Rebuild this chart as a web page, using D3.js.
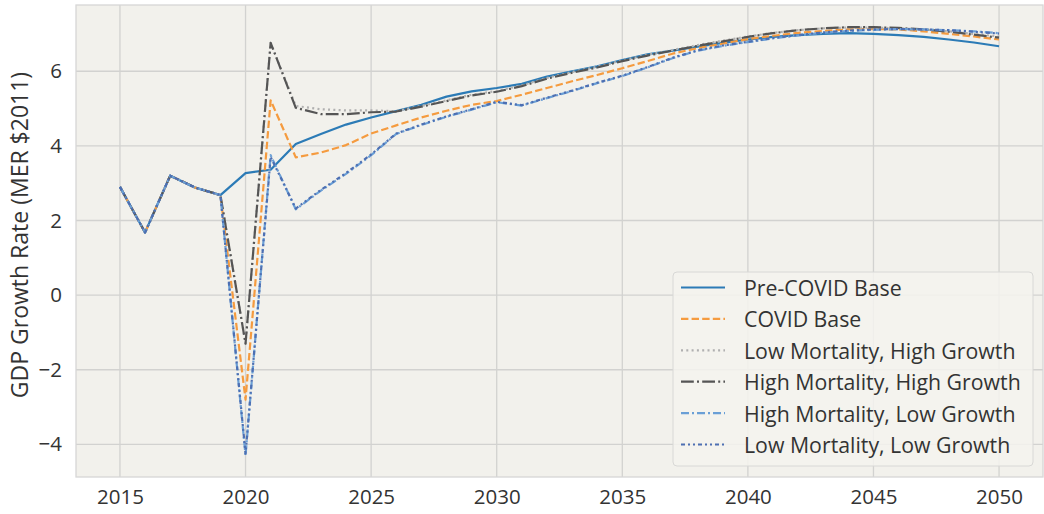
<!DOCTYPE html>
<html>
<head>
<meta charset="utf-8">
<script src="https://cdn.jsdelivr.net/npm/d3@7"></script>
<style>
  body { margin: 0; background: #fff; }
  svg { display: block; }
</style>
</head>
<body>
<div id="chart"></div>
<script>
const years = d3.range(2015, 2051);

const preCovidBase = [2.9, 1.68, 3.2, 2.88, 2.68, 3.27, 3.36, 4.05, 4.32, 4.57, 4.76, 4.93, 5.1, 5.32, 5.46, 5.55,
    5.66, 5.86, 6.0, 6.13, 6.3, 6.45, 6.55, 6.66, 6.76, 6.85, 6.92, 6.97, 7.0, 7.02, 7.0, 6.97, 6.92, 6.85, 6.77, 6.67];
const covidBase = [2.9, 1.68, 3.2, 2.88, 2.68, -2.8, 5.22, 3.69, 3.82, 4.02, 4.33, 4.55, 4.76, 4.94, 5.1, 5.2,
    5.37, 5.55, 5.73, 5.9, 6.08, 6.27, 6.47, 6.62, 6.74, 6.86, 6.95, 7.03, 7.08, 7.12, 7.13, 7.12, 7.07, 7.0, 6.93, 6.85];
const lowMortHighGrowth = [2.9, 1.68, 3.2, 2.88, 2.68, -1.3, 6.76, 5.07, 4.98, 4.95, 4.95, 4.93, 5.07, 5.22, 5.37, 5.47,
    5.62, 5.82, 5.98, 6.12, 6.29, 6.44, 6.57, 6.7, 6.82, 6.93, 7.03, 7.1, 7.15, 7.17, 7.17, 7.15, 7.12, 7.07, 7.0, 6.93];
const highMortHighGrowth = [2.9, 1.68, 3.2, 2.88, 2.68, -1.3, 6.76, 5.02, 4.85, 4.85, 4.9, 4.92, 5.05, 5.2, 5.35, 5.45,
    5.6, 5.8, 5.96, 6.1, 6.27, 6.42, 6.55, 6.68, 6.8, 6.92, 7.02, 7.1, 7.15, 7.18, 7.18, 7.16, 7.12, 7.06, 6.98, 6.9];
const highMortLowGrowth = [2.9, 1.68, 3.2, 2.88, 2.68, -4.3, 3.75, 2.3, 2.8, 3.25, 3.75, 4.32, 4.56, 4.78, 4.97, 5.17,
    5.08, 5.28, 5.47, 5.68, 5.87, 6.1, 6.35, 6.55, 6.68, 6.78, 6.88, 6.96, 7.03, 7.08, 7.11, 7.13, 7.12, 7.1, 7.07, 7.02];
const lowMortLowGrowth = [2.9, 1.68, 3.2, 2.88, 2.68, -4.25, 3.7, 2.32, 2.82, 3.27, 3.77, 4.33, 4.57, 4.79, 4.98, 5.18,
    5.09, 5.29, 5.48, 5.69, 5.88, 6.11, 6.36, 6.56, 6.69, 6.79, 6.89, 6.97, 7.04, 7.09, 7.12, 7.13, 7.12, 7.1, 7.06, 7.01];

const seriesNames = ["Pre-COVID Base", "COVID Base", "Low Mortality, High Growth",
    "High Mortality, High Growth", "High Mortality, Low Growth", "Low Mortality, Low Growth"];
const seriesValues = [preCovidBase, covidBase, lowMortHighGrowth, highMortHighGrowth, highMortLowGrowth, lowMortLowGrowth];
const seriesColors = ["#2c7bb6", "#f59b3f", "#b0b0b0", "#555555", "#6a9fd6", "#4d6fb2"];
const seriesDashes = [null, "7.4,3.2", "2,3.3", "12.8,3.2,2,3.2", "8,3,2,3", "4,3,2,3,2,3"];

const xTicks = [2015, 2020, 2025, 2030, 2035, 2040, 2045, 2050];
const yTicks = [-4, -2, 0, 2, 4, 6];

const width = 1044, height = 514;
const margin = { top: 5, right: 1, bottom: 37, left: 76 };
const font = "'Open Sans', sans-serif";

const svg = d3.select("#chart")
    .append("svg")
    .attr("width", width)
    .attr("height", height)
    .attr("font-family", font);

const x = d3.scaleLinear()
    .domain([2013.25, 2051.75])
    .range([margin.left, width - margin.right]);

const y = d3.scaleLinear()
    .domain([-4.875, 7.775])
    .range([height - margin.bottom, margin.top]);

// plot background
svg.append("rect")
    .attr("x", x.range()[0])
    .attr("y", y.range()[1])
    .attr("width", x.range()[1] - x.range()[0])
    .attr("height", y.range()[0] - y.range()[1])
    .attr("fill", "#f2f1ec");

// grid
svg.append("g")
    .selectAll("line")
    .data(xTicks)
    .join("line")
    .attr("x1", d => x(d)).attr("x2", d => x(d))
    .attr("y1", y.range()[0]).attr("y2", y.range()[1])
    .attr("stroke", "#d2d2d0")
    .attr("stroke-width", 1.3);

svg.append("g")
    .selectAll("line")
    .data(yTicks)
    .join("line")
    .attr("x1", x.range()[0]).attr("x2", x.range()[1])
    .attr("y1", d => y(d)).attr("y2", d => y(d))
    .attr("stroke", "#d2d2d0")
    .attr("stroke-width", 1.3);

// axes (labels only, no tick marks)
const xAxis = svg.append("g")
    .attr("transform", `translate(0,${y.range()[0]})`)
    .call(d3.axisBottom(x).tickValues(xTicks).tickFormat(d3.format("d")).tickSize(0).tickPadding(12));
const yAxis = svg.append("g")
    .attr("transform", `translate(${x.range()[0]},0)`)
    .call(d3.axisLeft(y).tickValues(yTicks).tickFormat(d => d < 0 ? "\u2212" + Math.abs(d) : d).tickSize(0).tickPadding(14));

[xAxis, yAxis].forEach(a => {
    a.select(".domain").remove();
    a.selectAll("text")
        .attr("font-family", font)
        .attr("font-size", 20.5)
        .attr("fill", "#333");
});

// border
svg.append("rect")
    .attr("x", x.range()[0])
    .attr("y", y.range()[1])
    .attr("width", x.range()[1] - x.range()[0])
    .attr("height", y.range()[0] - y.range()[1])
    .attr("fill", "none")
    .attr("stroke", "#d6d6d6")
    .attr("stroke-width", 1.3);

svg.append("text")
    .attr("transform", `translate(19,${(y.range()[0] + y.range()[1]) / 2 - 6}) rotate(-90)`)
    .attr("text-anchor", "middle")
    .attr("dominant-baseline", "central")
    .attr("font-size", 23)
    .attr("fill", "#333")
    .text("GDP Growth Rate (MER $2011)");

// lines
const line = d3.line()
    .x((d, i) => x(years[i]))
    .y(d => y(d));

svg.append("g")
    .selectAll("path")
    .data(seriesValues)
    .join("path")
    .attr("d", d => line(d))
    .attr("fill", "none")
    .attr("stroke", (d, i) => seriesColors[i])
    .attr("stroke-width", 2.2)
    .attr("stroke-dasharray", (d, i) => seriesDashes[i])
    .attr("stroke-linejoin", "round");

// legend
const legend = svg.append("g").attr("transform", "translate(673,272)");

legend.append("rect")
    .attr("width", 360)
    .attr("height", 194)
    .attr("rx", 4)
    .attr("fill", "#f4f3ef")
    .attr("fill-opacity", 0.85)
    .attr("stroke", "#d8d8d6");

const item = legend.selectAll("g.item")
    .data(seriesNames)
    .join("g")
    .attr("class", "item")
    .attr("transform", (d, i) => `translate(0,${15.5 + i * 31.4})`);

item.append("line")
    .attr("x1", 8).attr("x2", 52)
    .attr("stroke", (d, i) => seriesColors[i])
    .attr("stroke-width", 2.2)
    .attr("stroke-dasharray", (d, i) => seriesDashes[i]);

item.append("text")
    .attr("x", 71)
    .attr("dominant-baseline", "central")
    .attr("font-size", 21.3)
    .attr("fill", "#333")
    .text(d => d);
</script>
</body>
</html>
